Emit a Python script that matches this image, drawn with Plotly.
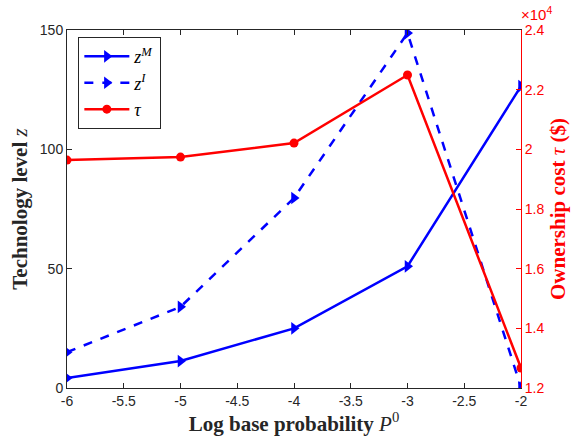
import plotly.graph_objects as go

x = [-6, -5, -4, -3, -2]
z_M = [4.2, 11.3, 25.0, 51.0, 126.5]
z_I = [15.0, 34.0, 79.6, 148.7, 0.3]
tau = [19640, 19740, 20210, 22490, 12670]

x_ticks = [-6, -5.5, -5, -4.5, -4, -3.5, -3, -2.5, -2]
y_ticks = [0, 50, 100, 150]
y2_ticks = [12000, 14000, 16000, 18000, 20000, 22000, 24000]
y2_text = ["1.2", "1.4", "1.6", "1.8", "2", "2.2", "2.4"]

fig = go.Figure()
fig.add_trace(go.Scatter(x=x, y=z_M, mode="lines+markers", name="<i>z</i><sup><i>M</i></sup>",
                         line=dict(color="#0000ff", width=2.5),
                         marker=dict(symbol="triangle-right", size=11, color="#0000ff")))
fig.add_trace(go.Scatter(x=x, y=z_I, mode="lines+markers", name="<i>z</i><sup><i>I</i></sup>",
                         line=dict(color="#0000ff", width=2.5, dash="dash"),
                         marker=dict(symbol="triangle-right", size=11, color="#0000ff")))
fig.add_trace(go.Scatter(x=x, y=tau, mode="lines+markers", name="<i>τ</i>", yaxis="y2",
                         line=dict(color="#ff0000", width=2.5),
                         marker=dict(symbol="circle", size=9, color="#ff0000")))

fig.update_layout(
    width=573, height=439,
    margin=dict(l=67, r=52, t=30, b=51, autoexpand=False),
    paper_bgcolor="white", plot_bgcolor="white",
    font=dict(family="Liberation Sans, Arial", size=14, color="#262626"),
    showlegend=True,
    legend=dict(x=0.025, y=0.98, xanchor="left", yanchor="top",
                bordercolor="#262626", borderwidth=1, bgcolor="white",
                font=dict(family="Liberation Serif", size=18, color="#000000"),
                tracegroupgap=0, itemwidth=45),
    xaxis=dict(range=[-6, -2], tickvals=x_ticks, ticktext=[str(v) for v in x_ticks],
               ticks="inside", ticklen=5, tickcolor="#262626", automargin=False,
               showline=True, linecolor="#262626", linewidth=1, mirror="ticks",
               showgrid=False, zeroline=False,
               title=dict(text="<b>Log base probability </b><i>P</i><sup>0</sup>",
                          font=dict(family="Liberation Serif", size=21, color="#262626"),
                          standoff=0)),
    yaxis=dict(range=[0, 150], tickvals=y_ticks, automargin=False,
               ticks="inside", ticklen=5, tickcolor="#262626",
               showline=True, linecolor="#262626", linewidth=1,
               showgrid=False, zeroline=False,
               title=dict(text="<b>Technology level </b><i>z</i>",
                          font=dict(family="Liberation Serif", size=21, color="#262626"),
                          standoff=6)),
    yaxis2=dict(range=[12000, 24000], tickvals=y2_ticks, ticktext=y2_text,
                overlaying="y", side="right", automargin=False,
                ticks="inside", ticklen=5, tickcolor="#ff0000",
                tickfont=dict(color="#ff0000", size=14),
                showline=True, linecolor="#ff0000", linewidth=1,
                showgrid=False, zeroline=False,
                title=dict(text="<b>Ownership cost </b><i>τ</i><b> ($)</b>",
                           font=dict(family="Liberation Serif", size=21, color="#ff0000"),
                           standoff=6)),
)
fig.add_annotation(x=1.0, y=1.0, xref="paper", yref="paper", xanchor="left", yanchor="bottom",
                   text="×10<sup>4</sup>", showarrow=False, xshift=-2, yshift=5,
                   font=dict(family="Liberation Sans, Arial", size=15, color="#ff0000"))

fig.write_html("out.html")
